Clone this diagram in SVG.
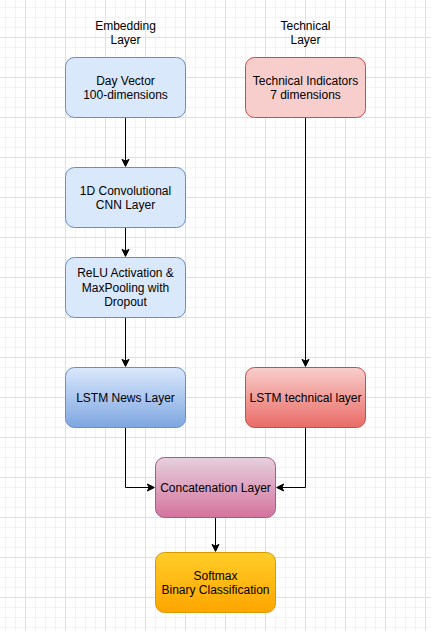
<svg xmlns="http://www.w3.org/2000/svg" width="431" height="631" viewBox="0 0 431 631">
<style>
.t{font-family:"Liberation Sans",Arial,Helvetica,sans-serif;font-size:12px;fill:#000;text-anchor:middle}
.e{fill:none;stroke:#000;stroke-width:1}
.a{fill:#000;stroke:#000;stroke-width:1}
.n{stroke-width:1}
</style>
<defs>
<pattern id="grid" x="25" y="37" width="40" height="40" patternUnits="userSpaceOnUse">
<path d="M10.5 0V40M20.5 0V40M30.5 0V40M0 10.5H40M0 20.5H40M0 30.5H40" stroke="#f3f3f3" stroke-width="1" fill="none"/>
<path d="M0.5 0V40M0 0.5H40" stroke="#e0e0e0" stroke-width="1" fill="none"/>
</pattern>
<linearGradient id="gBlue" x1="0" y1="0" x2="0" y2="1"><stop offset="0" stop-color="#dae8fc"/><stop offset="1" stop-color="#7ea6e0"/></linearGradient>
<linearGradient id="gRed" x1="0" y1="0" x2="0" y2="1"><stop offset="0" stop-color="#f8cecc"/><stop offset="1" stop-color="#ea6b66"/></linearGradient>
<linearGradient id="gPink" x1="0" y1="0" x2="0" y2="1"><stop offset="0" stop-color="#e6d0de"/><stop offset="1" stop-color="#d5739d"/></linearGradient>
<linearGradient id="gOrange" x1="0" y1="0" x2="0" y2="1"><stop offset="0" stop-color="#ffcd28"/><stop offset="1" stop-color="#ffa500"/></linearGradient>
</defs>
<rect width="431" height="631" fill="#ffffff"/>
<rect width="431" height="631" fill="url(#grid)"/>

<g id="connectors">
<path class="e" d="M125.5 117.5V161.13"/>
<path class="a" d="M125.5 166.38L122 159.38L125.5 161.13L129 159.38Z"/>
<path class="e" d="M125.5 227.5V251.13"/>
<path class="a" d="M125.5 256.38L122 249.38L125.5 251.13L129 249.38Z"/>
<path class="e" d="M125.5 317.5V361.13"/>
<path class="a" d="M125.5 366.38L122 359.38L125.5 361.13L129 359.38Z"/>
<path class="e" d="M305.5 117.5V361.13"/>
<path class="a" d="M305.5 366.38L302 359.38L305.5 361.13L309 359.38Z"/>
<path class="e" d="M125.5 427.5V487.5H149.13"/>
<path class="a" d="M154.38 487.5L147.38 491L149.13 487.5L147.38 484Z"/>
<path class="e" d="M305.5 427.5V487.5H281.87"/>
<path class="a" d="M276.62 487.5L283.62 484L281.87 487.5L283.62 491Z"/>
<path class="e" d="M215.5 517.5V546.13"/>
<path class="a" d="M215.5 551.38L212 544.38L215.5 546.13L219 544.38Z"/>
</g>

<g id="title-embedding">
<text class="t" x="125.5" y="29.5">Embedding</text>
<text class="t" x="125.5" y="44">Layer</text>
</g>
<g id="title-technical">
<text class="t" x="305.5" y="29.5">Technical</text>
<text class="t" x="305.5" y="44">Layer</text>
</g>

<g id="day-vector">
<rect class="n" x="65.5" y="57.5" width="120" height="60" rx="9" fill="#dae8fc" stroke="#6c8ebf"/>
<text class="t" x="125.5" y="84.5">Day Vector</text>
<text class="t" x="125.5" y="99">100-dimensions</text>
</g>
<g id="technical-indicators">
<rect class="n" x="245.5" y="57.5" width="120" height="60" rx="9" fill="#f8cecc" stroke="#b85450"/>
<text class="t" x="305.5" y="84.5">Technical Indicators</text>
<text class="t" x="305.5" y="99">7 dimensions</text>
</g>
<g id="cnn">
<rect class="n" x="65.5" y="167.5" width="120" height="60" rx="9" fill="#dae8fc" stroke="#6c8ebf"/>
<text class="t" x="125.5" y="194.5">1D Convolutional</text>
<text class="t" x="125.5" y="209">CNN Layer</text>
</g>
<g id="relu">
<rect class="n" x="65.5" y="257.5" width="120" height="60" rx="9" fill="#dae8fc" stroke="#6c8ebf"/>
<text class="t" x="125.5" y="277.3">ReLU Activation &amp;</text>
<text class="t" x="125.5" y="291.7">MaxPooling with</text>
<text class="t" x="125.5" y="306.1">Dropout</text>
</g>
<g id="lstm-news">
<rect class="n" x="65.5" y="367.5" width="120" height="60" rx="9" fill="url(#gBlue)" stroke="#6c8ebf"/>
<text class="t" x="125.5" y="401.8">LSTM News Layer</text>
</g>
<g id="lstm-technical">
<rect class="n" x="245.5" y="367.5" width="120" height="60" rx="9" fill="url(#gRed)" stroke="#b85450"/>
<text class="t" x="305.5" y="401.8">LSTM technical layer</text>
</g>
<g id="concatenation">
<rect class="n" x="155.5" y="457.5" width="120" height="60" rx="9" fill="url(#gPink)" stroke="#996185"/>
<text class="t" x="215.5" y="491.8">Concatenation Layer</text>
</g>
<g id="softmax">
<rect class="n" x="155.5" y="552.5" width="120" height="60" rx="9" fill="url(#gOrange)" stroke="#d79b00"/>
<text class="t" x="215.5" y="579.5">Softmax</text>
<text class="t" x="215.5" y="594">Binary Classification</text>
</g>
</svg>
